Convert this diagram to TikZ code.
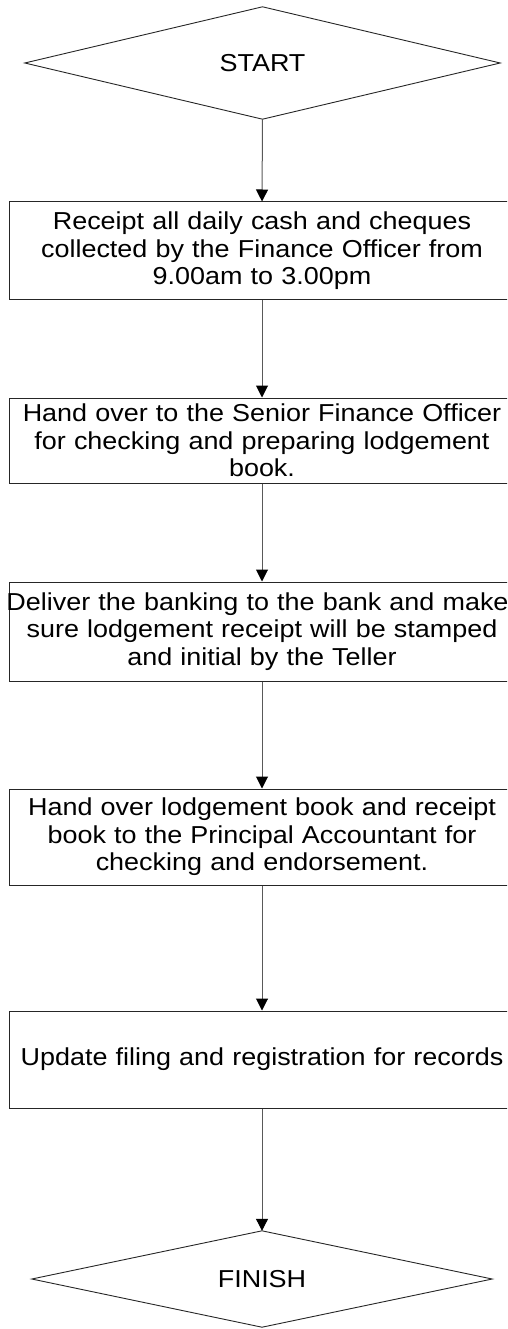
\documentclass[tikz,border=0pt]{standalone}
\usepackage{fontspec}
\setmainfont{Liberation Sans}[FakeStretch=1.10]
\usetikzlibrary{arrows.meta}
\begin{document}
\begin{tikzpicture}[x=1pt,y=-1pt,
  txt/.style={font=\fontsize{24.5}{27.5}\selectfont},
  stepbox/.style={draw=black!85, line width=1pt, rectangle, minimum width=506pt, align=center, text width=504pt, inner sep=0pt, txt},
  diam/.style={draw=black!85, line width=0.9pt},
  conn/.style={draw=black!65, line width=1pt, -{Triangle[length=12pt,width=12pt,color=black]}}
]
\useasboundingbox (0,0) rectangle (507,1329);
\clip (0,0) rectangle (507,1329);
% start diamond
\node[minimum width=475pt, minimum height=112pt, inner sep=0pt, txt] (s) at (262.5,63) {START};
\draw[diam] (s.west) -- (s.north) -- (s.east) -- (s.south) -- cycle;
% boxes
\node[stepbox, minimum height=98pt] (b1) at (262,251) {Receipt all daily cash and cheques\\collected by the Finance Officer from\\9.00am to 3.00pm};
\node[stepbox, minimum height=85pt] (b2) at (262,440.5) {Hand over to the Senior Finance Officer\\for checking and preparing lodgement\\book.};
\node[stepbox, minimum height=99pt] (b3) at (262,631.5) {\makebox[\linewidth][c]{\kern-9pt Deliver the banking to the bank and make}\\sure lodgement receipt will be stamped\\and initial by the Teller};
\node[stepbox, minimum height=96pt] (b4) at (262,837) {Hand over lodgement book and receipt\\book to the Principal Accountant for\\checking and endorsement.};
\node[stepbox, minimum height=97pt] (b5) at (262,1059.5) {Update filing and registration for records};
% finish diamond
\node[minimum width=460pt, minimum height=96pt, inner sep=0pt, txt] (f) at (262,1279) {FINISH};
\draw[diam] (f.west) -- (f.north) -- (f.east) -- (f.south) -- cycle;
% connectors
\draw[conn] (s.south) -- (b1.north);
\draw[conn] (b1.south) -- (b2.north);
\draw[conn] (b2.south) -- (b3.north);
\draw[conn] (b3.south) -- (b4.north);
\draw[conn] (b4.south) -- (b5.north);
\draw[conn] (b5.south) -- (f.north);
\end{tikzpicture}
\end{document}
